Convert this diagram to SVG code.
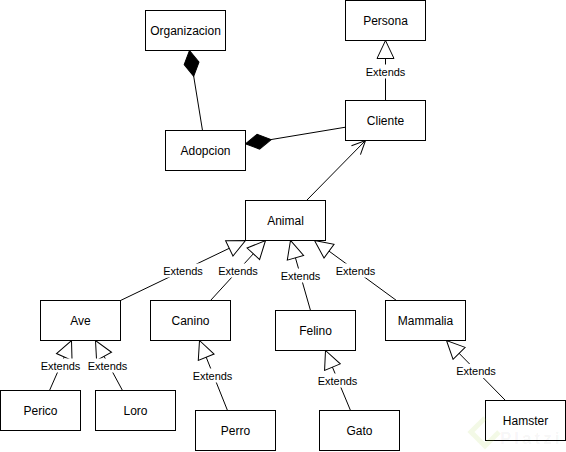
<svg xmlns="http://www.w3.org/2000/svg" width="566" height="452" viewBox="0 0 566 452">
  <style>
    .box { fill: #ffffff; stroke: #000000; stroke-width: 1; }
    .lbl { font-family: "Liberation Sans", Arial, Helvetica, sans-serif; font-size: 12px; fill: #000000; text-anchor: middle; }
    .ext { font-family: "Liberation Sans", Arial, Helvetica, sans-serif; font-size: 11px; fill: #000000; text-anchor: middle; }
    .edge { fill: none; stroke: #000000; stroke-width: 1; }
    .lblbg { fill: #ffffff; stroke: none; }
    .wm { font-family: "Liberation Sans", Arial, sans-serif; font-size: 17px; font-weight: bold; fill: #000000; fill-opacity: 0.05; letter-spacing: 3px; }
  </style>
  <defs>
    <marker id="tri" markerUnits="userSpaceOnUse" viewBox="-1 -1 21 19" markerWidth="21" markerHeight="19" refX="18" refY="8.5" orient="auto">
      <path d="M0,0 L18,8.5 L0,17 Z" fill="#ffffff" stroke="#000000" stroke-width="1"/>
    </marker>
    <marker id="dia" markerUnits="userSpaceOnUse" viewBox="-1 -1 28 17" markerWidth="28" markerHeight="17" refX="0" refY="7.5" orient="auto">
      <path d="M0,7.5 L13,0 L26,7.5 L13,15 Z" fill="#000000" stroke="#000000" stroke-width="1"/>
    </marker>
    <marker id="open" markerUnits="userSpaceOnUse" viewBox="-1 -1 16 15" markerWidth="16" markerHeight="15" refX="13.6" refY="6.3" orient="auto">
      <path d="M0,0 L13.6,6.3 L0,12.6" fill="none" stroke="#000000" stroke-width="1"/>
    </marker>
  </defs>
  <rect x="0" y="0" width="566" height="452" fill="#ffffff"/>
  <g transform="translate(0.5,0.5)">
    <g id="connectors">
      <path class="edge" d="M385,100 L385,40" marker-end="url(#tri)"/>
      <path class="edge" d="M189,50 L202,130" marker-start="url(#dia)"/>
      <path class="edge" d="M245,143.3 L345,126.7" marker-start="url(#dia)"/>
      <path class="edge" d="M306,200 L365,140" marker-end="url(#open)"/>
      <path class="edge" d="M120,300 L245,240" marker-end="url(#tri)"/>
      <path class="edge" d="M210,300 L265,240" marker-end="url(#tri)"/>
      <path class="edge" d="M310,310 L290,240" marker-end="url(#tri)"/>
      <path class="edge" d="M396,300 L314,240" marker-end="url(#tri)"/>
      <path class="edge" d="M49,390 L71,340" marker-end="url(#tri)"/>
      <path class="edge" d="M122,390 L95,340" marker-end="url(#tri)"/>
      <path class="edge" d="M227,410 L199,340" marker-end="url(#tri)"/>
      <path class="edge" d="M350,410 L325,350" marker-end="url(#tri)"/>
      <path class="edge" d="M505,400 L446,340" marker-end="url(#tri)"/>
      <g id="edge-labels">
        <rect class="lblbg" x="364" y="64" width="42" height="14"/>
        <text class="ext" x="385" y="75">Extends</text>
        <rect class="lblbg" x="161.5" y="263" width="42" height="14"/>
        <text class="ext" x="182.5" y="274">Extends</text>
        <rect class="lblbg" x="216.5" y="263" width="42" height="14"/>
        <text class="ext" x="237.5" y="274">Extends</text>
        <rect class="lblbg" x="279" y="268" width="42" height="14"/>
        <text class="ext" x="300" y="279">Extends</text>
        <rect class="lblbg" x="334" y="263" width="42" height="14"/>
        <text class="ext" x="355" y="274">Extends</text>
        <rect class="lblbg" x="39" y="358" width="42" height="14"/>
        <text class="ext" x="60" y="369">Extends</text>
        <rect class="lblbg" x="86" y="358" width="42" height="14"/>
        <text class="ext" x="107" y="369">Extends</text>
        <rect class="lblbg" x="191" y="368" width="42" height="14"/>
        <text class="ext" x="212" y="379">Extends</text>
        <rect class="lblbg" x="316" y="373" width="42" height="14"/>
        <text class="ext" x="337" y="384">Extends</text>
        <rect class="lblbg" x="454.5" y="363.5" width="42" height="14"/>
        <text class="ext" x="475.5" y="374.5">Extends</text>
      </g>
    </g>
    <g id="organizacion"><rect class="box" x="145" y="10" width="80" height="40"/><text class="lbl" x="185" y="34.3">Organizacion</text></g>
    <g id="persona"><rect class="box" x="345" y="0" width="80" height="40"/><text class="lbl" x="385" y="24.3">Persona</text></g>
    <g id="cliente"><rect class="box" x="345" y="100" width="80" height="40"/><text class="lbl" x="385" y="124.3">Cliente</text></g>
    <g id="adopcion"><rect class="box" x="165" y="130" width="80" height="40"/><text class="lbl" x="205" y="154.3">Adopcion</text></g>
    <g id="animal"><rect class="box" x="245" y="200" width="80" height="40"/><text class="lbl" x="285" y="224.3">Animal</text></g>
    <g id="ave"><rect class="box" x="40" y="300" width="80" height="40"/><text class="lbl" x="80" y="324.3">Ave</text></g>
    <g id="canino"><rect class="box" x="150" y="300" width="80" height="40"/><text class="lbl" x="190" y="324.3">Canino</text></g>
    <g id="felino"><rect class="box" x="275" y="310" width="80" height="40"/><text class="lbl" x="315" y="334.3">Felino</text></g>
    <g id="mammalia"><rect class="box" x="385" y="300" width="80" height="40"/><text class="lbl" x="425" y="324.3">Mammalia</text></g>
    <g id="perico"><rect class="box" x="0" y="390" width="80" height="40"/><text class="lbl" x="40" y="414.3">Perico</text></g>
    <g id="loro"><rect class="box" x="95" y="390" width="80" height="40"/><text class="lbl" x="135" y="414.3">Loro</text></g>
    <g id="perro"><rect class="box" x="195" y="410" width="80" height="40"/><text class="lbl" x="235" y="434.3">Perro</text></g>
    <g id="gato"><rect class="box" x="319" y="410" width="80" height="40"/><text class="lbl" x="359" y="434.3">Gato</text></g>
    <g id="hamster"><rect class="box" x="485" y="400" width="80" height="40"/><text class="lbl" x="525" y="424.3">Hamster</text></g>
  </g>
  <g id="watermark">
    <path d="M485,418 L471,432 L485,446 L499,432" fill="none" stroke="#9ccc33" stroke-opacity="0.12" stroke-width="5"/>
    <text class="wm" x="500" y="444">Platzi</text>
  </g>
</svg>
